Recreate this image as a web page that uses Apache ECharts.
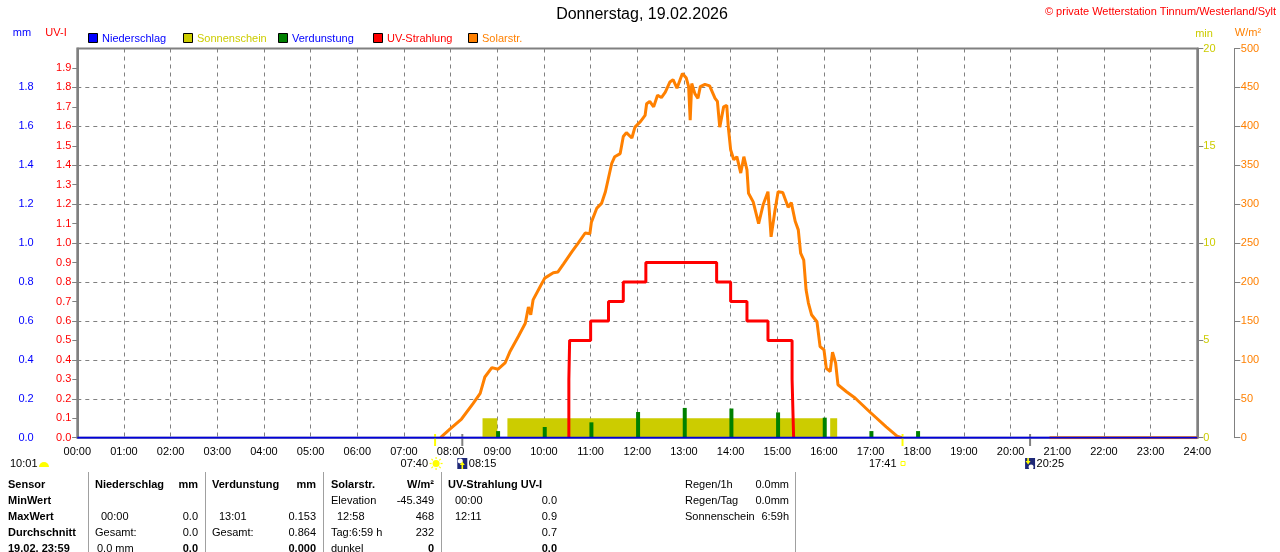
<!DOCTYPE html>
<html>
<head>
<meta charset="utf-8">
<script src="https://cdn.jsdelivr.net/npm/echarts@6/dist/echarts.min.js"></script>
<style>
html, body { margin: 0; padding: 0; background: #fff; }
#chart { width: 1280px; height: 552px; }
</style>
</head>
<body>
<div id="chart"></div>
<script>
// values, times as HH:MM
const hourLabels = ['00:00', '01:00', '02:00', '03:00', '04:00', '05:00', '06:00', '07:00', '08:00',
    '09:00', '10:00', '11:00', '12:00', '13:00', '14:00', '15:00', '16:00', '17:00', '18:00',
    '19:00', '20:00', '21:00', '22:00', '23:00', '24:00'];

// Solarstr. W/m²
const solarPoints = [
    ['07:47', 0], ['07:59', 11], ['08:14', 24], ['08:29', 44], ['08:38', 57], ['08:44', 78],
    ['08:53', 90], ['09:01', 88], ['09:10', 96], ['09:16', 110], ['09:27', 130], ['09:36', 147],
    ['09:40', 168], ['09:43', 158], ['09:46', 177], ['09:55', 194], ['10:01', 205], ['10:12', 212],
    ['10:18', 213], ['10:25', 223], ['10:36', 239], ['10:44', 250], ['10:53', 263], ['10:59', 262],
    ['11:01', 277], ['11:08', 295], ['11:14', 301], ['11:19', 316], ['11:21', 318], ['11:27', 352],
    ['11:31', 361], ['11:38', 365], ['11:42', 387], ['11:46', 392], ['11:53', 385], ['11:57', 399],
    ['12:04', 406], ['12:10', 414], ['12:12', 429], ['12:16', 432], ['12:21', 425], ['12:26', 440],
    ['12:31', 437], ['12:36', 444], ['12:42', 457], ['12:46', 460], ['12:51', 449], ['12:58', 468],
    ['13:03', 462], ['13:06', 451], ['13:08', 408], ['13:10', 455], ['13:14', 442], ['13:18', 436],
    ['13:21', 451], ['13:27', 454], ['13:33', 452], ['13:40', 436], ['13:43', 432], ['13:46', 399],
    ['13:51', 425], ['13:55', 427], ['13:57', 399], ['14:00', 370], ['14:04', 357], ['14:08', 361],
    ['14:13', 340], ['14:17', 361], ['14:21', 344], ['14:23', 314], ['14:29', 303], ['14:36', 275],
    ['14:42', 300], ['14:48', 316], ['14:52', 258], ['14:57', 292], ['15:01', 316], ['15:07', 315],
    ['15:14', 296], ['15:18', 302], ['15:23', 278], ['15:27', 267], ['15:30', 237], ['15:34', 228],
    ['15:37', 190], ['15:40', 173], ['15:44', 158], ['15:51', 149], ['15:55', 117], ['16:00', 113],
    ['16:03', 89], ['16:08', 85], ['16:11', 110], ['16:15', 96], ['16:18', 68], ['16:29', 59],
    ['16:40', 51], ['16:59', 33], ['17:20', 14], ['17:34', 2], ['17:40', 0],
    ['19:00', null], ['20:50', 0], ['24:00', 0]
];

// UV-Strahlung UV-I, value holds from the given time on
const uvSteps = [
    ['10:32', 0], ['10:32', 0.3], ['10:33', 0.5], ['11:00', 0.6], ['11:23', 0.7], ['11:42', 0.8],
    ['12:11', 0.9], ['13:42', 0.8], ['14:00', 0.7], ['14:21', 0.6], ['14:48', 0.5], ['15:19', 0.3],
    ['15:21', 0]
];

// Sonnenschein, 1 min per minute while the sun shines
const sunshineSpans = [['08:41', '09:00'], ['09:13', '16:01'], ['16:08', '16:17']];

// Verdunstung mm
const evapTimes = ['09:01', '10:01', '11:01', '12:01', '13:01', '14:01', '15:01', '16:01', '17:01', '18:01'];
const evapValues = [0.034, 0.055, 0.079, 0.132, 0.153, 0.150, 0.130, 0.103, 0.034, 0.034];

// Niederschlag mm
const rainPoints = [['00:00', 0], ['24:00', 0]];

const horizonEvents = [
    { time: '07:40', kind: 'sunrise' },
    { time: '08:15', kind: 'moonrise' },
    { time: '17:41', kind: 'sunset' },
    { time: '20:25', kind: 'moonset' }
];

const legendItems = [
    { name: 'Niederschlag', box: '#0000ff', text: '#0000ff' },
    { name: 'Sonnenschein', box: '#cccc00', text: '#cccc00' },
    { name: 'Verdunstung', box: '#008000', text: '#0000ff' },
    { name: 'UV-Strahlung', box: '#ff0000', text: '#ff0000' },
    { name: 'Solarstr.', box: '#ff8000', text: '#ff8000' }
];

const FONT = '"Liberation Sans", Arial, sans-serif';
const GRAY = '#808080';

const toMin = s => {
    const [h, m] = s.split(':').map(Number);
    return h * 60 + m;
};

const sunshineData = [];
sunshineSpans.forEach(([s, e]) => {
    sunshineData.push([toMin(s), 0], [toMin(s), 1], [toMin(e), 1], [toMin(e), 0]);
});

const chart = echarts.init(document.getElementById('chart'));

chart.setOption({
    animation: false,
    textStyle: { fontFamily: FONT },
    grid: {
        left: 77.3, right: 82.7, top: 48.5, bottom: 114.3,
        show: true, borderColor: GRAY, borderWidth: 2, backgroundColor: 'transparent'
    },
    xAxis: {
        type: 'value', min: 0, max: 1440, interval: 60,
        axisLine: { show: false },
        axisTick: { show: false },
        axisLabel: {
            color: '#000', fontSize: 11, margin: 9, fontFamily: FONT,
            formatter: v => hourLabels[Math.round(v / 60)]
        },
        splitLine: { show: true, lineStyle: { color: GRAY, type: [4, 4], width: 1 } }
    },
    yAxis: [
        {
            type: 'value', min: 0, max: 2, interval: 0.2, position: 'left', offset: 36.6,
            axisLine: { show: true, lineStyle: { color: GRAY, width: 1 } },
            axisTick: { show: true, length: 5, lineStyle: { color: GRAY } },
            axisLabel: { color: '#0000ff', fontSize: 11, margin: 7, showMaxLabel: false, fontFamily: FONT,
                formatter: v => v.toFixed(1) },
            splitLine: { show: true, lineStyle: { color: GRAY, type: [4, 4], width: 1 } }
        },
        {
            type: 'value', min: 0, max: 2, interval: 0.1, position: 'left', offset: 0,
            axisLine: { show: true, lineStyle: { color: GRAY, width: 2 } },
            axisTick: { show: true, length: 5, lineStyle: { color: GRAY } },
            axisLabel: { color: '#ff0000', fontSize: 11, margin: 6, showMaxLabel: false, fontFamily: FONT,
                formatter: v => v.toFixed(1) },
            splitLine: { show: false }
        },
        {
            type: 'value', min: 0, max: 20, interval: 5, position: 'right', offset: 0,
            axisLine: { show: true, lineStyle: { color: GRAY, width: 2 } },
            axisTick: { show: true, length: 6, lineStyle: { color: GRAY } },
            axisLabel: { color: '#cccc00', fontSize: 11, margin: 6, fontFamily: FONT },
            splitLine: { show: false }
        },
        {
            type: 'value', min: 0, max: 500, interval: 50, position: 'right', offset: 37,
            axisLine: { show: true, lineStyle: { color: GRAY, width: 1 } },
            axisTick: { show: true, length: 6, lineStyle: { color: GRAY } },
            axisLabel: { color: '#ff8000', fontSize: 11, margin: 6.5, fontFamily: FONT },
            splitLine: { show: false }
        }
    ],
    series: [
        {
            name: 'Sonnenschein', type: 'line', yAxisIndex: 2, symbol: 'none', z: 1,
            lineStyle: { width: 0 },
            areaStyle: { color: '#cccc00', opacity: 1 },
            data: sunshineData
        },
        {
            name: 'Verdunstung', type: 'bar', yAxisIndex: 0, barWidth: 4, z: 3,
            itemStyle: { color: '#008000' },
            data: evapTimes.map((t, i) => [toMin(t), evapValues[i]])
        },
        {
            name: 'UV-Strahlung', type: 'line', yAxisIndex: 1, symbol: 'none', step: 'end', z: 4,
            lineStyle: { color: '#ff0000', width: 3 },
            data: uvSteps.map(([t, v]) => [toMin(t), v])
        },
        {
            name: 'Solarstr.', type: 'line', yAxisIndex: 3, symbol: 'none', connectNulls: false, z: 5,
            lineStyle: { color: '#ff8000', width: 3 },
            data: solarPoints.map(([t, v]) => [toMin(t), v])
        },
        {
            name: 'Niederschlag', type: 'line', yAxisIndex: 0, symbol: 'none', z: 6,
            lineStyle: { color: '#0000dd', width: 2 },
            data: rainPoints.map(([t, v]) => [toMin(t), v])
        }
    ]
});

// ---- texts and symbols around the plot ----
const txt = (text, x, y, o = {}) => ({
    type: 'text', silent: true,
    style: {
        text, x, y,
        fill: o.color || '#000',
        font: (o.bold ? 'bold ' : '') + (o.size || 11) + 'px ' + FONT,
        align: o.align || 'left',
        verticalAlign: 'middle'
    }
});
const line = (x1, y1, x2, y2, color, width) => ({
    type: 'line', silent: true,
    shape: { x1, y1, x2, y2 },
    style: { stroke: color, lineWidth: width }
});

const graphics = [];

graphics.push(txt('Donnerstag, 19.02.2026', 642, 15, { size: 16, align: 'center' }));
graphics.push(txt('© private Wetterstation Tinnum/Westerland/Sylt', 1276, 12, { color: '#ff0000', align: 'right' }));

graphics.push(txt('mm', 22, 33, { color: '#0000ff', align: 'center' }));
graphics.push(txt('UV-I', 56, 33, { color: '#ff0000', align: 'center' }));
graphics.push(txt('min', 1204, 34, { color: '#cccc00', align: 'center' }));
graphics.push(txt('W/m²', 1248, 33, { color: '#ff8000', align: 'center' }));

legendItems.forEach((it, i) => {
    const x = 88 + i * 95;
    graphics.push({
        type: 'rect', silent: true,
        shape: { x: x + 0.5, y: 33.5, width: 9, height: 9 },
        style: { fill: it.box, stroke: '#000', lineWidth: 1 }
    });
    graphics.push(txt(it.name, x + 14, 38.5, { color: it.text }));
});

// sunrise / sunset / moon markers at their times on the time axis
const sunIcon = (cx, cy) => {
    const parts = [{ type: 'circle', silent: true, shape: { cx, cy, r: 3.5 }, style: { fill: '#ffff00' } }];
    for (let k = 0; k < 8; k++) {
        const a = k * Math.PI / 4;
        parts.push(line(cx + Math.cos(a) * 4.5, cy + Math.sin(a) * 4.5,
            cx + Math.cos(a) * 6.5, cy + Math.sin(a) * 6.5, '#ffff00', 1.2));
    }
    return parts;
};
const moonIcon = (cx, rising) => {
    const parts = [{
        type: 'rect', silent: true,
        shape: { x: cx - 5, y: 458, width: 10, height: 11 },
        style: { fill: '#1e2878' }
    }];
    if (rising) {
        parts.push({ type: 'circle', silent: true, shape: { cx: cx - 2, cy: 461, r: 2.5 }, style: { fill: '#fff' } });
        parts.push({
            type: 'polygon', silent: true,
            shape: { points: [[cx - 0.8, 469], [cx + 0.8, 469], [cx + 0.8, 465], [cx + 2.5, 465], [cx, 461.5], [cx - 2.5, 465], [cx - 0.8, 465]] },
            style: { fill: '#ffff00' }
        });
    } else {
        parts.push({ type: 'circle', silent: true, shape: { cx: cx + 1, cy: 467, r: 2.5 }, style: { fill: '#fff' } });
        parts.push({
            type: 'polygon', silent: true,
            shape: { points: [[cx - 2.8, 458], [cx - 1.2, 458], [cx - 1.2, 461], [cx + 0.5, 461], [cx - 2, 464.5], [cx - 4.5, 461], [cx - 2.8, 461]] },
            style: { fill: '#ffff00' }
        });
    }
    return parts;
};

horizonEvents.forEach(ev => {
    const x = chart.convertToPixel({ xAxisIndex: 0 }, toMin(ev.time));
    const isSun = ev.kind === 'sunrise' || ev.kind === 'sunset';
    graphics.push(line(x, 434, x, 446, isSun ? '#ffff00' : GRAY, 2));
    if (ev.kind === 'sunrise') {
        graphics.push(txt(ev.time, x - 7, 463.5, { align: 'right' }));
        graphics.push(...sunIcon(x + 1, 463.5));
    } else if (ev.kind === 'sunset') {
        graphics.push(txt(ev.time, x - 6, 463.5, { align: 'right' }));
        graphics.push({
            type: 'rect', silent: true,
            shape: { x: x - 1.5, y: 461.5, width: 4, height: 4 },
            style: { fill: 'none', stroke: '#ffff00', lineWidth: 1 }
        });
    } else {
        graphics.push(...moonIcon(x, ev.kind === 'moonrise'));
        graphics.push(txt(ev.time, x + 6.5, 463.5));
    }
});

// day length with half sun
graphics.push(txt('10:01', 10, 463.5));
graphics.push({
    type: 'sector', silent: true,
    shape: { cx: 44, cy: 467, r0: 0, r: 5, startAngle: Math.PI, endAngle: Math.PI * 2, clockwise: true },
    style: { fill: '#ffff00' }
});

// ---- table under the chart ----
[88.5, 205.5, 323.5, 441.5, 795.5].forEach(x => graphics.push(line(x, 472, x, 552, '#a0a0a0', 1)));

const rowY = [485, 501, 517, 533, 549];
const tableCells = [
    ['Sensor', 8, 0, 'left', true], ['MinWert', 8, 1, 'left', true], ['MaxWert', 8, 2, 'left', true],
    ['Durchschnitt', 8, 3, 'left', true], ['19.02. 23:59', 8, 4, 'left', true],

    ['Niederschlag', 95, 0, 'left', true], ['mm', 198, 0, 'right', true],
    ['00:00', 101, 2, 'left'], ['0.0', 198, 2, 'right'],
    ['Gesamt:', 95, 3, 'left'], ['0.0', 198, 3, 'right'],
    ['0.0 mm', 97, 4, 'left'], ['0.0', 198, 4, 'right', true],

    ['Verdunstung', 212, 0, 'left', true], ['mm', 316, 0, 'right', true],
    ['13:01', 219, 2, 'left'], ['0.153', 316, 2, 'right'],
    ['Gesamt:', 212, 3, 'left'], ['0.864', 316, 3, 'right'],
    ['0.000', 316, 4, 'right', true],

    ['Solarstr.', 331, 0, 'left', true], ['W/m²', 434, 0, 'right', true],
    ['Elevation', 331, 1, 'left'], ['-45.349', 434, 1, 'right'],
    ['12:58', 337, 2, 'left'], ['468', 434, 2, 'right'],
    ['Tag:6:59 h', 331, 3, 'left'], ['232', 434, 3, 'right'],
    ['dunkel', 331, 4, 'left'], ['0', 434, 4, 'right', true],

    ['UV-Strahlung UV-I', 448, 0, 'left', true],
    ['00:00', 455, 1, 'left'], ['0.0', 557, 1, 'right'],
    ['12:11', 455, 2, 'left'], ['0.9', 557, 2, 'right'],
    ['0.7', 557, 3, 'right'],
    ['0.0', 557, 4, 'right', true],

    ['Regen/1h', 685, 0, 'left'], ['0.0mm', 789, 0, 'right'],
    ['Regen/Tag', 685, 1, 'left'], ['0.0mm', 789, 1, 'right'],
    ['Sonnenschein', 685, 2, 'left'], ['6:59h', 789, 2, 'right']
];
tableCells.forEach(([t, x, r, align, bold]) => {
    graphics.push(txt(t, x, rowY[r], { align, bold }));
});

chart.setOption({ graphic: graphics });
</script>
</body>
</html>
